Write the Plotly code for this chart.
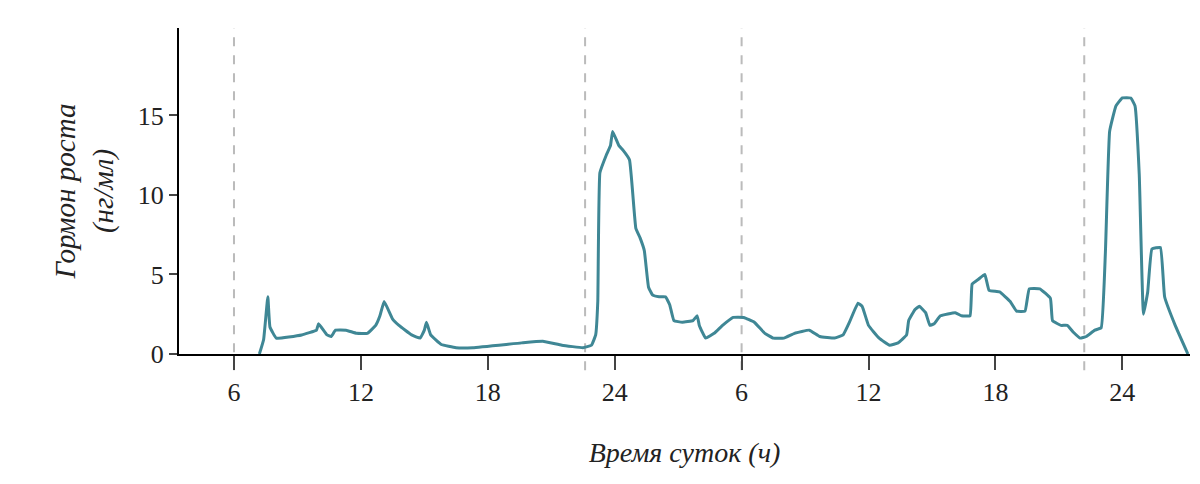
import plotly.graph_objects as go

hours = [7.2,7.4,7.6,7.7,8.0,9.2,9.9,10.0,10.4,10.6,10.8,11.3,11.8,12.3,12.7,12.9,13.1,13.5,13.8,14.4,14.8,15.0,15.1,15.3,15.8,16.5,17.3,19.6,20.6,21.5,22.5,22.9,23.1,23.2,23.3,23.6,23.8,23.9,24.2,24.4,24.7,25.0,25.2,25.4,25.6,25.8,26.1,26.4,26.6,26.8,27.2,27.7,27.9,28.0,28.3,28.7,29.1,29.6,30.1,30.6,31.1,31.5,32.0,32.5,33.2,33.7,34.4,34.8,35.1,35.5,35.7,36.0,36.5,37.0,37.4,37.8,37.9,38.2,38.4,38.7,38.9,39.1,39.4,40.1,40.4,40.8,40.9,41.2,41.5,41.7,42.2,42.7,43.0,43.4,43.6,44.1,44.6,44.7,45.1,45.4,45.7,46.0,46.3,46.7,47.0,47.2,47.4,47.7,48.0,48.4,48.6,48.8,49.0,49.2,49.4,49.8,50.0,50.5,51.1]
gh = [0,0.9,3.6,1.7,1.0,1.2,1.5,1.9,1.2,1.1,1.5,1.5,1.3,1.3,1.8,2.4,3.3,2.2,1.8,1.2,1.0,1.5,2.0,1.2,0.6,0.4,0.4,0.7,0.8,0.55,0.4,0.55,1.2,3.3,11.4,12.5,13.1,14.0,13.1,12.8,12.2,7.9,7.3,6.5,4.2,3.7,3.6,3.6,3.1,2.1,2.0,2.1,2.4,1.8,1.0,1.3,1.8,2.3,2.3,2.0,1.3,1.0,1.0,1.3,1.5,1.1,1.0,1.2,2.0,3.2,3.0,1.8,1.0,0.55,0.7,1.2,2.1,2.8,3.0,2.6,1.8,1.9,2.4,2.6,2.4,2.4,4.4,4.7,5.0,4.0,3.9,3.3,2.7,2.7,4.1,4.1,3.5,2.1,1.8,1.8,1.35,1.0,1.1,1.5,1.65,6.4,14.0,15.6,16.1,16.1,15.6,11.3,2.5,3.9,6.6,6.7,3.6,1.8,0]
tick_vals = [6,12,18,24,30,36,42,48]
tick_text = ["6","12","18","24","6","12","18","24"]
y_ticks = [0,5,10,15]
sleep_marks = [6.0,22.6,30.0,46.2]

fig = go.Figure(go.Scatter(x=hours, y=gh, mode="lines",
    line=dict(color="#3f8795", width=3, shape="spline", smoothing=0.3)))
for v in sleep_marks:
    fig.add_shape(type="line", x0=v, x1=v, xref="x", yref="paper", y0=-0.05, y1=1.0,
                  line=dict(color="#bbbbbb", width=2, dash="dash"), layer="below")
font = "Liberation Serif, DejaVu Serif, serif"
fig.update_layout(
    width=1200, height=484, plot_bgcolor="white", paper_bgcolor="white",
    margin=dict(l=171, r=18, t=20, b=138), showlegend=False,
    font=dict(family=font, size=26, color="#222"),
    xaxis=dict(range=[3.4, 51.2], tickvals=tick_vals, ticktext=tick_text, showline=True,
               linecolor="black", linewidth=2, ticks="outside", ticklen=14, tickwidth=2,
               showgrid=False, zeroline=False,
               title=dict(text="<i>Время суток (ч)</i>", standoff=36, font=dict(size=28))),
    yaxis=dict(range=[0, 20.5], tickvals=y_ticks, showline=True, linecolor="black", linewidth=2,
               ticks="outside", ticklen=8, tickwidth=2, showgrid=False, zeroline=False,
               title=dict(text="<i>Гормон роста<br>(нг/мл)</i>", standoff=16, font=dict(size=29))),
)
fig.write_html("out.html")
